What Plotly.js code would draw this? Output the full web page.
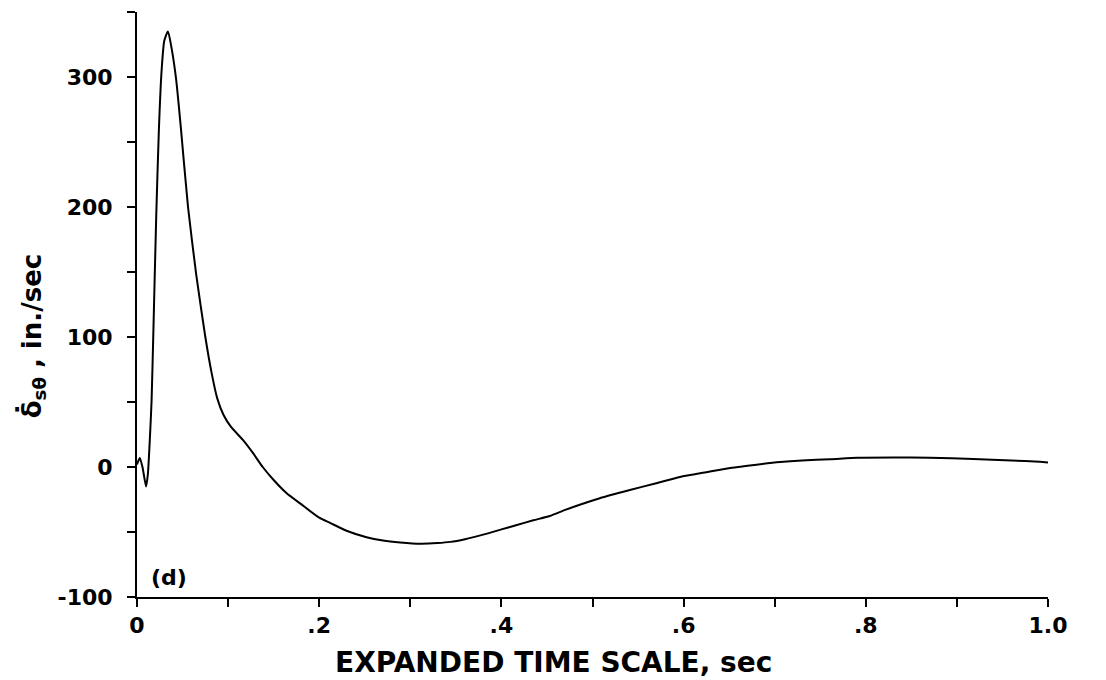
<!DOCTYPE html>
<html>
<head>
<meta charset="utf-8">
<script src="https://cdn.plot.ly/plotly-3.0.1.min.js"></script>
<style>html,body{margin:0;padding:0;background:#fff;}#chart{width:1106px;height:680px;}</style>
</head>
<body>
<div id="chart"></div>
<script>
// Time, sec
var timeSec = [0, 0.003, 0.006, 0.010, 0.012, 0.014, 0.016, 0.018, 0.021, 0.024, 0.027, 0.030, 0.034, 0.038, 0.043, 0.048, 0.056, 0.065, 0.075, 0.082, 0.088, 0.095, 0.103, 0.116, 0.127, 0.138, 0.150, 0.164, 0.179, 0.200, 0.212, 0.230, 0.252, 0.270, 0.289, 0.311, 0.330, 0.344, 0.360, 0.380, 0.400, 0.417, 0.435, 0.453, 0.470, 0.486, 0.508, 0.541, 0.570, 0.596, 0.625, 0.651, 0.680, 0.706, 0.730, 0.761, 0.791, 0.830, 0.870, 0.918, 0.960, 0.991, 1.000];
// Rate, in./sec
var rateInSec = [2, 7, 0, -15, -5, 20, 51, 105, 190, 259, 305, 328, 335, 322, 298, 262, 200, 148, 100, 72, 53, 40, 31, 21, 11, 0, -10, -20, -28, -39, -43, -49, -54, -56.5, -58, -59, -58.5, -57.6, -55.5, -52, -48, -44.6, -41, -37.7, -33, -29, -24, -17.7, -12.5, -7.7, -4, -0.8, 1.8, 3.8, 5, 6, 7.2, 7.4, 7.2, 6.2, 5, 4, 3.5];

var xTickVals = [0, 0.1, 0.2, 0.3, 0.4, 0.5, 0.6, 0.7, 0.8, 0.9, 1.0];
var xTickText = ["0", "", ".2", "", ".4", "", ".6", "", ".8", "", "1.0"];
var yTickVals = [-100, -50, 0, 50, 100, 150, 200, 250, 300, 350];
var yTickText = ["-100", "", "0", "", "100", "", "200", "", "300", ""];

var xTitle = "EXPANDED TIME SCALE, sec";
var yTitle = "δ\u0307<sub>sθ</sub> , in./sec";
var panelLabel = "(d)";

var FONT = "DejaVu Sans, Liberation Sans, Arial, sans-serif";

var trace = {
  x: timeSec,
  y: rateInSec,
  type: "scatter",
  mode: "lines",
  line: {color: "#000", width: 2, shape: "spline", smoothing: 0.6},
  hoverinfo: "skip"
};

var layout = {
  width: 1106,
  height: 680,
  margin: {l: 137, r: 58, t: 12, b: 83},
  paper_bgcolor: "#fff",
  plot_bgcolor: "#fff",
  showlegend: false,
  font: {family: FONT, color: "#000"},
  xaxis: {
    range: [0, 1],
    showgrid: false,
    zeroline: false,
    showline: true,
    linecolor: "#000",
    linewidth: 2,
    ticks: "outside",
    ticklen: 8,
    tickwidth: 2,
    tickcolor: "#000",
    tickmode: "array",
    tickvals: xTickVals,
    ticktext: xTickText,
    tickfont: {family: FONT, size: 22, weight: "bold", color: "#000"}
  },
  yaxis: {
    range: [-100, 350],
    showgrid: false,
    zeroline: false,
    showline: true,
    linecolor: "#000",
    linewidth: 2,
    ticks: "outside",
    ticklen: 8,
    tickwidth: 2,
    tickcolor: "#000",
    tickmode: "array",
    tickvals: yTickVals,
    ticktext: yTickText,
    ticklabelstandoff: 10,
    tickfont: {family: FONT, size: 22, weight: "bold", color: "#000"}
  },
  annotations: [{
    x: 0.013, y: -85, xref: "x", yref: "y",
    text: panelLabel, showarrow: false, xanchor: "left", yanchor: "middle",
    font: {family: FONT, size: 22, weight: "bold", color: "#000"}
  }, {
    x: 0.457, y: -0.112, xref: "paper", yref: "paper",
    text: xTitle, showarrow: false, xanchor: "center", yanchor: "middle",
    font: {family: FONT, size: 28, weight: "bold", color: "#000"}
  }, {
    x: -0.115, y: 0.446, xref: "paper", yref: "paper",
    text: yTitle, showarrow: false, xanchor: "center", yanchor: "middle", textangle: -90,
    font: {family: FONT, size: 26, weight: "bold", color: "#000"}
  }]
};

Plotly.newPlot("chart", [trace], layout, {displayModeBar: false, staticPlot: true});
</script>
</body>
</html>
